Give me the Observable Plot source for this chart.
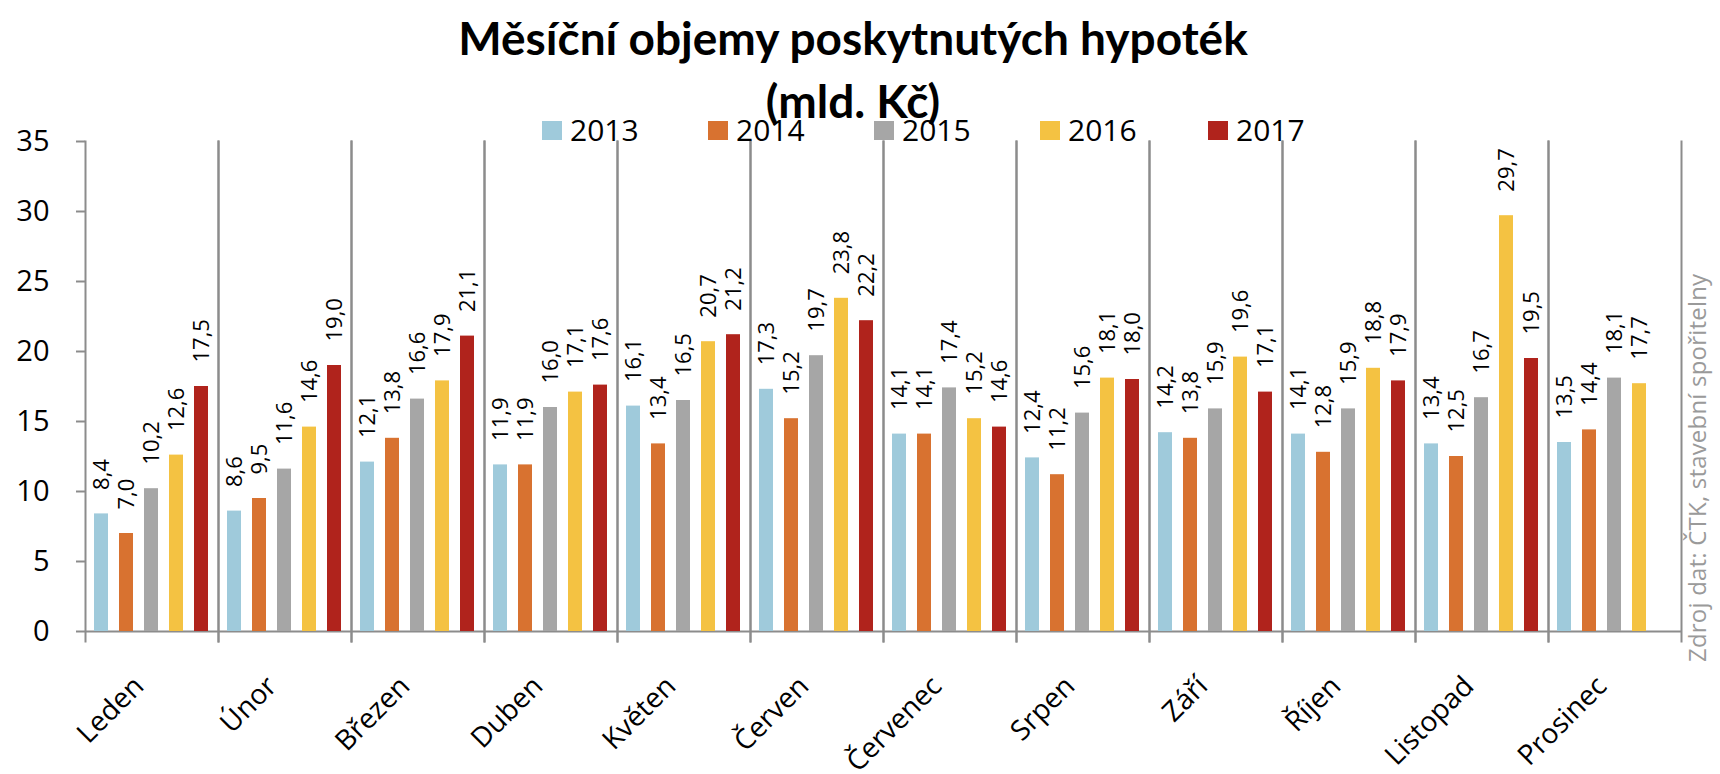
<!DOCTYPE html>
<html>
<head>
<meta charset="utf-8">
<script src="https://cdn.jsdelivr.net/npm/d3@7"></script>
<script src="https://cdn.jsdelivr.net/npm/@observablehq/plot@0.6"></script>
<style>
  html, body { margin: 0; padding: 0; background: #fff; }
  #wrap { position: relative; width: 1720px; height: 774px; overflow: hidden; background: #fff; }
  #wrap svg.chart { position: absolute; left: 0; top: 0; }
  .title { position: absolute; left: 853px; transform: translateX(-50%); white-space: nowrap;
           font-family: Lato, "Open Sans", sans-serif; font-weight: 700; font-size: 46px; line-height: 55.2px; color: #000; }
  .leg-sq { position: absolute; width: 20px; height: 19px; }
  .leg-tx { position: absolute; font-family: "Open Sans", sans-serif; font-size: 30px; line-height: 40.86px; color: #000; white-space: nowrap; }
  #source { position: absolute; left: 1681px; top: 662px; transform-origin: 0 0; transform: rotate(-90deg);
            font-family: "Open Sans", sans-serif; font-size: 24px; letter-spacing: 0.2px; line-height: 32.7px; color: #9a9a9a; white-space: nowrap; }
</style>
</head>
<body>
<div id="wrap"></div>
<script>
// ---- data ----
const months = ["Leden", "Únor", "Březen", "Duben", "Květen", "Červen", "Červenec", "Srpen", "Září", "Říjen", "Listopad", "Prosinec"];
const years = ["2013", "2014", "2015", "2016", "2017"];
const v2013 = [8.4, 8.6, 12.1, 11.9, 16.1, 17.3, 14.1, 12.4, 14.2, 14.1, 13.4, 13.5];
const v2014 = [7.0, 9.5, 13.8, 11.9, 13.4, 15.2, 14.1, 11.2, 13.8, 12.8, 12.5, 14.4];
const v2015 = [10.2, 11.6, 16.6, 16.0, 16.5, 19.7, 17.4, 15.6, 15.9, 15.9, 16.7, 18.1];
const v2016 = [12.6, 14.6, 17.9, 17.1, 20.7, 23.8, 15.2, 18.1, 19.6, 18.8, 29.7, 17.7];
const v2017 = [17.5, 19.0, 21.1, 17.6, 21.2, 22.2, 14.6, 18.0, 17.1, 17.9, 19.5, null];
const yTicks = [0, 5, 10, 15, 20, 25, 30, 35];
const colors = ["#9fcadb", "#d87230", "#a6a6a6", "#f4c242", "#b0231c"];
const titleLines = ["Měsíční objemy poskytnutých hypoték", "(mld. Kč)"];
const sourceText = "Zdroj dat: ČTK, stavební spořitelny";

const series = [v2013, v2014, v2015, v2016, v2017];
const data = [];
months.forEach((m, i) => {
  years.forEach((y, j) => {
    const v = series[j][i];
    if (v != null) data.push({month: m, year: y, value: v});
  });
});
const fmt = d => d3.format(".1f")(d.value).replace(".", ",");
const gray = "#8c8c8c";

const chart = Plot.plot({
  width: 1720,
  height: 774,
  marginLeft: 81,
  marginRight: 35,
  marginTop: 141,
  marginBottom: 143,
  style: {fontFamily: "'Open Sans', sans-serif", background: "transparent", overflow: "visible"},
  fx: {domain: months, padding: 0, label: null},
  x: {domain: years, paddingInner: 0.43, paddingOuter: 0.335, axis: null},
  y: {domain: [0, 35], label: null},
  color: {domain: years, range: colors},
  marks: [
    Plot.frame({anchor: "left", stroke: gray, strokeWidth: 2, insetBottom: -10}),
    Plot.frame({anchor: "right", stroke: gray, strokeWidth: 2, insetBottom: -10}),
    Plot.ruleY([0], {stroke: gray, strokeWidth: 2}),
    Plot.barY(data, {fx: "month", x: "year", y: "value", fill: "year"}),
    Plot.text(data, {fx: "month", x: "year", y: "value", text: fmt, rotate: -90,
      textAnchor: "start", lineAnchor: "middle", dy: -24, fontSize: 22, fill: "#000"}),
    Plot.axisY({ticks: yTicks, tickSize: 9, tickPadding: 27, fontSize: 29, label: null,
      stroke: gray, strokeWidth: 2, fill: "#000", tickFormat: d => String(d)}),
    Plot.axisFx({anchor: "bottom", tickRotate: -45, tickSize: 0, tickPadding: 3, fontSize: 28, label: null,
      fill: "#000", dx: -13, dy: 47})
  ]
});
chart.classList.add("chart");
const wrap = document.getElementById("wrap");
wrap.appendChild(chart);

// title
const titleBaselines = [55, 118];
titleLines.forEach((t, i) => {
  const d = document.createElement("div");
  d.className = "title";
  d.textContent = t;
  d.style.top = (titleBaselines[i] - 0.987 * 46) + "px";
  wrap.appendChild(d);
});

// legend
const legX = [542, 708, 874, 1040, 1208];
years.forEach((y, i) => {
  const sq = document.createElement("div");
  sq.className = "leg-sq";
  sq.style.left = legX[i] + "px";
  sq.style.top = "121px";
  sq.style.background = colors[i];
  wrap.appendChild(sq);
  const tx = document.createElement("div");
  tx.className = "leg-tx";
  tx.textContent = y;
  tx.style.left = (legX[i] + 28) + "px";
  tx.style.top = (142 - 1.069 * 30) + "px";
  wrap.appendChild(tx);
});

// source
const src = document.createElement("div");
src.id = "source";
src.textContent = sourceText;
wrap.appendChild(src);
</script>
</body>
</html>
